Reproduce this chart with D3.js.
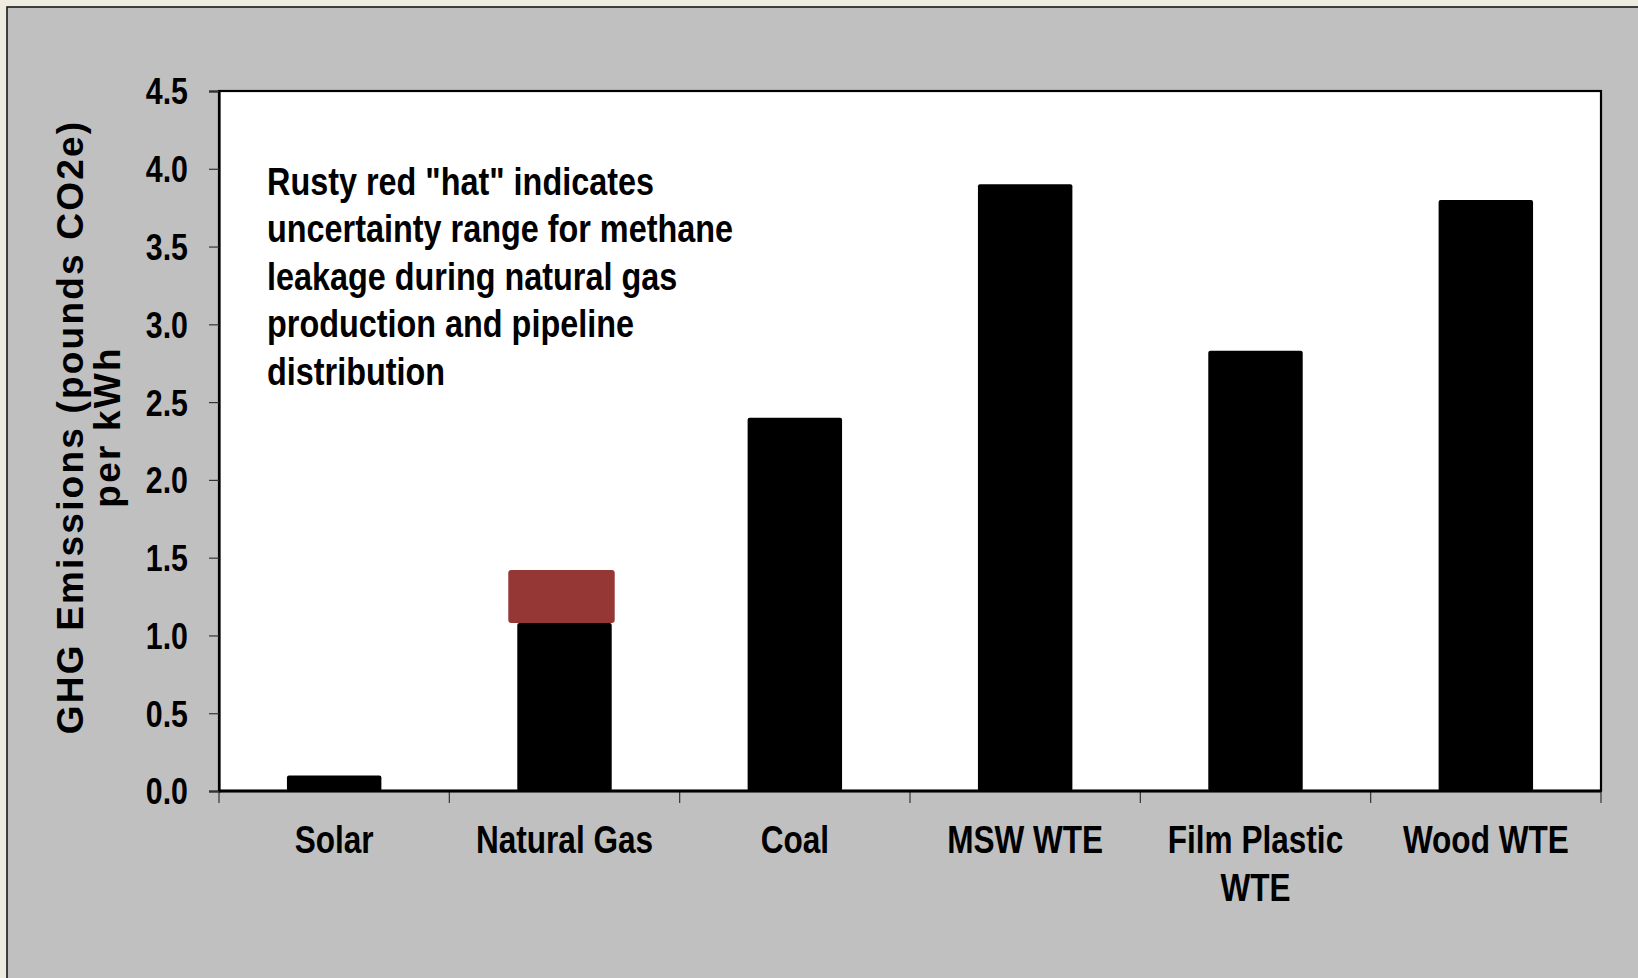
<!DOCTYPE html>
<html>
<head>
<meta charset="utf-8">
<script src="https://cdn.jsdelivr.net/npm/d3@7"></script>
<style>
  html, body { margin: 0; padding: 0; background: #EEEBE0; }
  svg { display: block; }
</style>
</head>
<body>
<svg id="chart" width="1638" height="978"></svg>
<script>
// ---- data ----
const categories = ["Solar", "Natural Gas", "Coal", "MSW WTE", "Film Plastic WTE", "Wood WTE"];
const categoryLabelLines = [["Solar"], ["Natural Gas"], ["Coal"], ["MSW WTE"], ["Film Plastic", "WTE"], ["Wood WTE"]];
const values = [0.1, 1.08, 2.4, 3.9, 2.83, 3.8];
const hatCategory = "Natural Gas";
const hatRange = [1.08, 1.42];
const yTickValues = [0, 0.5, 1.0, 1.5, 2.0, 2.5, 3.0, 3.5, 4.0, 4.5];
const yTitleLines = ["GHG Emissions (pounds CO2e)", "per kWh"];
const noteLines = ["Rusty red \"hat\" indicates", "uncertainty range for methane", "leakage during natural gas", "production and pipeline", "distribution"];

// ---- layout ----
const W = 1638, H = 978;
const plot = { left: 219, right: 1601, top: 91, bottom: 791 };
const NARROW = "'Liberation Sans Narrow', 'Arial Narrow', sans-serif";
const WIDE = "'Liberation Sans', Arial, sans-serif";

const svg = d3.select("#chart");

// detect narrow font availability
const probe = svg.append("text").attr("font-family", NARROW).attr("font-weight", "bold").attr("font-size", 40).text("uncertainty range for methane");
const probeW = probe.node().getComputedTextLength();
probe.attr("font-family", WIDE);
const probeWide = probe.node().getComputedTextLength();
probe.remove();
const squeeze = (probeW / probeWide > 0.92) ? 0.82 : 1;

svg.append("rect").attr("x", 0).attr("y", 0).attr("width", W).attr("height", H).attr("fill", "#EEEBE0");
svg.append("rect").attr("x", 7).attr("y", 7).attr("width", W + 20).attr("height", H + 20)
  .attr("fill", "#C0C0C0").attr("stroke", "#1a1a1a").attr("stroke-width", 1.6);

const x = d3.scaleBand().domain(categories).range([plot.left, plot.right])
  .paddingInner(0.59).paddingOuter(0.295);
const y = d3.scaleLinear().domain([0, 4.5]).range([plot.bottom, plot.top]);

// plot area
svg.append("rect").attr("x", plot.left).attr("y", plot.top)
  .attr("width", plot.right - plot.left).attr("height", plot.bottom - plot.top)
  .attr("fill", "#ffffff").attr("stroke", "#000").attr("stroke-width", 2.2);

// bars
svg.append("g").selectAll("rect").data(categories).join("rect")
  .attr("x", d => x(d)).attr("width", x.bandwidth())
  .attr("y", (d, i) => y(values[i])).attr("height", (d, i) => y(0) - y(values[i]))
  .attr("rx", 2).attr("fill", "#000");

// hat
svg.append("rect")
  .attr("x", x(hatCategory) - 9).attr("width", x.bandwidth() + 12)
  .attr("y", y(hatRange[1])).attr("height", y(hatRange[0]) - y(hatRange[1]))
  .attr("rx", 3).attr("fill", "#943735");

// y axis
const yAxis = svg.append("g").attr("transform", `translate(${plot.left},0)`)
  .call(d3.axisLeft(y).tickValues(yTickValues).tickFormat(d3.format(".1f")).tickSize(10).tickPadding(21));
yAxis.select(".domain").attr("stroke", "#000").attr("stroke-width", 2.2);
yAxis.selectAll(".tick line").attr("stroke", "#333").attr("stroke-width", 1.2);
yAxis.selectAll(".tick text").attr("font-family", NARROW).attr("font-weight", "bold")
  .attr("font-size", 37).attr("fill", "#000").attr("dy", "0.35em")
  .each(function() {
    if (squeeze !== 1) {
      const t = d3.select(this); const xx = +t.attr("x") || -31;
      t.attr("transform", `translate(${xx},0) scale(${squeeze},1)`).attr("x", 0);
    }
  });

// x axis: line, boundary ticks, labels
const step = x.step();
const boundaries = categories.map(c => x(c) - step * x.paddingInner() / 2).concat([plot.right]);
const xg = svg.append("g");
xg.selectAll("line.tk").data(boundaries).join("line").attr("class", "tk")
  .attr("x1", d => d).attr("x2", d => d).attr("y1", plot.bottom).attr("y2", plot.bottom + 12)
  .attr("stroke", "#333").attr("stroke-width", 1.2);
xg.append("line").attr("x1", plot.left).attr("x2", plot.right).attr("y1", plot.bottom).attr("y2", plot.bottom)
  .attr("stroke", "#000").attr("stroke-width", 3);

const labels = xg.selectAll("g.lab").data(categories).join("g").attr("class", "lab")
  .attr("transform", d => `translate(${x(d) + x.bandwidth() / 2},853) scale(${squeeze},1)`);
labels.each(function(d, i) {
  d3.select(this).selectAll("text").data(categoryLabelLines[i]).join("text")
    .attr("y", (l, j) => j * 48).attr("text-anchor", "middle")
    .attr("font-family", NARROW).attr("font-weight", "bold").attr("font-size", 38.5).attr("fill", "#000")
    .text(l => l);
});

// y title
const yt = svg.append("g").attr("transform", "translate(0,427)");
yt.selectAll("text").data(yTitleLines).join("text")
  .attr("transform", (d, i) => `translate(${83 + i * 37},0) rotate(-90)`)
  .attr("text-anchor", "middle").attr("font-family", WIDE).attr("font-weight", "bold")
  .attr("font-size", 37).attr("letter-spacing", 2.2).attr("fill", "#000")
  .text(d => d);

// annotation
const note = svg.append("g").attr("transform", `translate(267,195) scale(${squeeze},1)`);
note.selectAll("text").data(noteLines).join("text")
  .attr("x", 0).attr("y", (d, i) => i * 47.5)
  .attr("font-family", NARROW).attr("font-weight", "bold").attr("font-size", 39.5).attr("fill", "#000")
  .text(d => d);
</script>
</body>
</html>
